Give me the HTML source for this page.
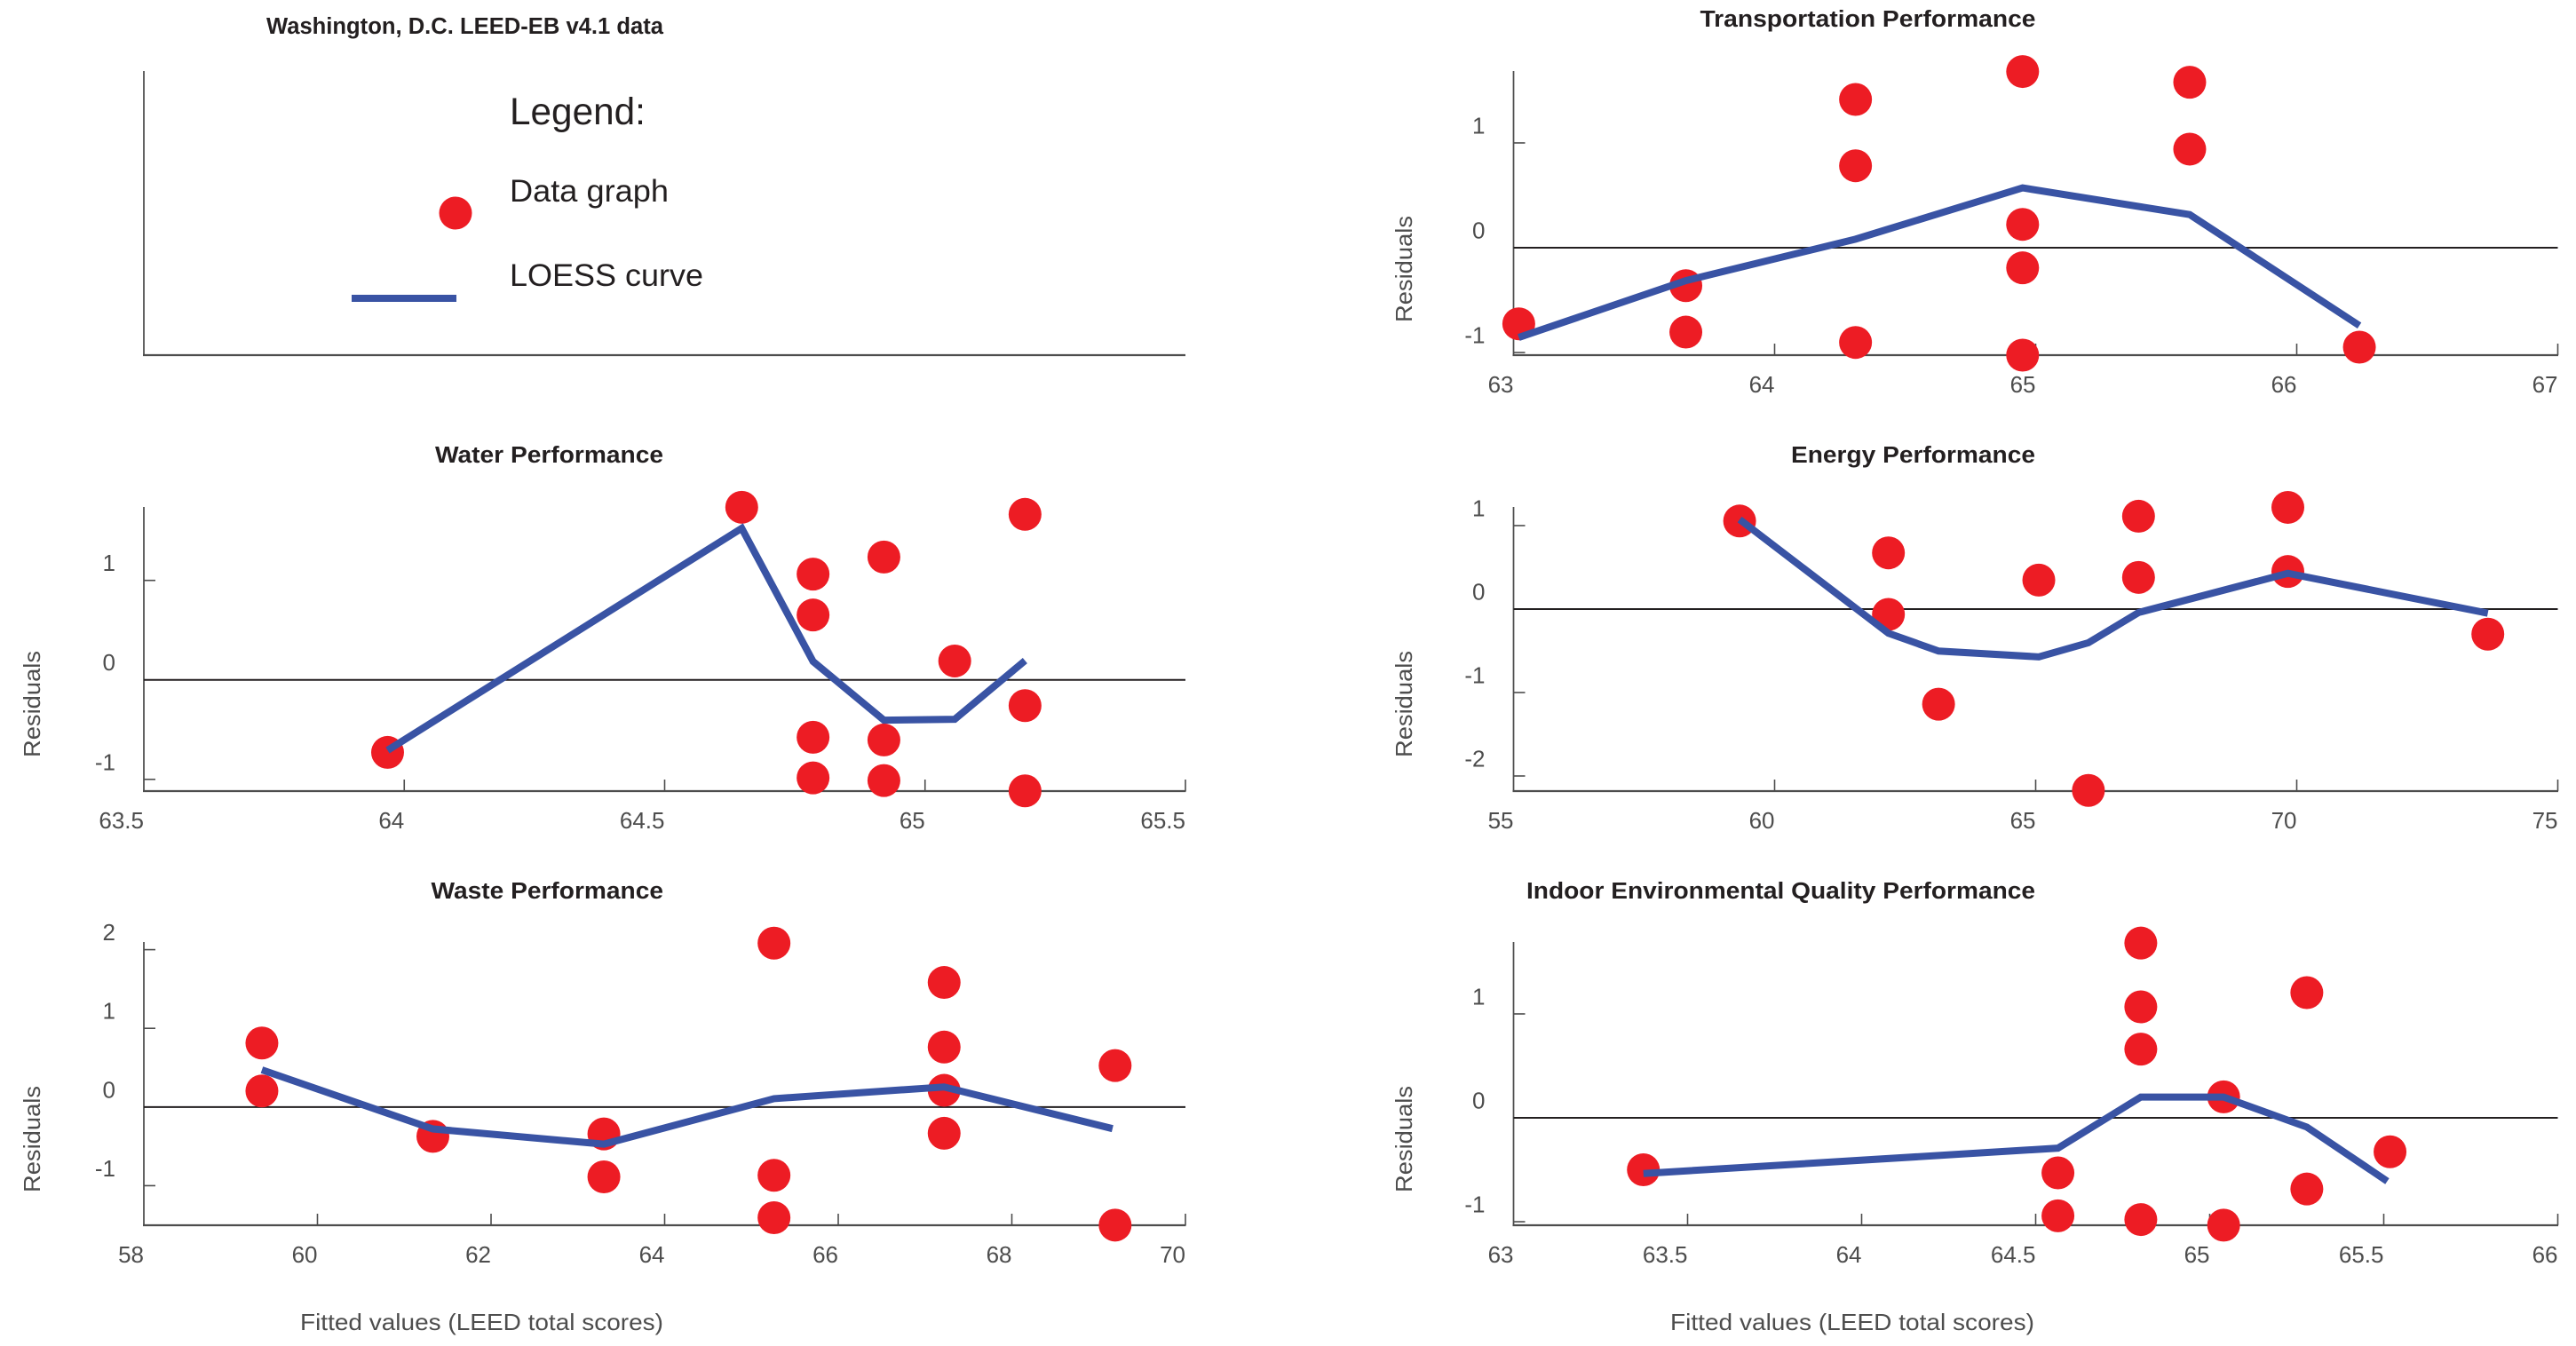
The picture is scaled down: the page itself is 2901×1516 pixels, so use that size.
<!DOCTYPE html>
<html lang="en">
<head>
<meta charset="utf-8">
<title>Washington, D.C. LEED-EB v4.1 data</title>
<style>
  html, body { margin: 0; padding: 0; background: #fff; }
  svg { display: block; }
  text { font-family: "Liberation Sans", Arial, sans-serif; }
  .title { font-size: 25.5px; font-weight: bold; fill: #231f20; }
  .legend { fill: #231f20; }
  .axis-title { font-size: 26px; fill: #4d4d4d; }
  .tick { font-size: 26px; fill: #4d4d4d; }
</style>
</head>
<body>
<svg id="chart" xmlns="http://www.w3.org/2000/svg" width="2901" height="1516" viewBox="0 0 2901 1516">
  <rect x="0" y="0" width="2901" height="1516" fill="#ffffff"/>
  <text class="title" x="300" y="38" textLength="447" lengthAdjust="spacingAndGlyphs">Washington, D.C. LEED-EB v4.1 data</text>
  <text class="title" x="1914.5" y="30" textLength="378" lengthAdjust="spacingAndGlyphs">Transportation Performance</text>
  <text class="title" x="490" y="521" textLength="257" lengthAdjust="spacingAndGlyphs">Water Performance</text>
  <text class="title" x="2017" y="521" textLength="275" lengthAdjust="spacingAndGlyphs">Energy Performance</text>
  <text class="title" x="485.5" y="1012" textLength="261.5" lengthAdjust="spacingAndGlyphs">Waste Performance</text>
  <text class="title" x="1719" y="1012" textLength="573" lengthAdjust="spacingAndGlyphs">Indoor Environmental Quality Performance</text>

  <g>
    <line x1="162" y1="80" x2="162" y2="401" stroke="#4d4d4d" stroke-width="1.75"/>
    <line x1="161" y1="400" x2="1335" y2="400" stroke="#4d4d4d" stroke-width="2.25"/>
    <text class="legend" x="574" y="140" font-size="42.3">Legend:</text>
    <circle cx="513" cy="240" r="18.5" fill="#ed1c24"/>
    <text class="legend" x="574" y="227" font-size="35.5" textLength="179" lengthAdjust="spacingAndGlyphs">Data graph</text>
    <line x1="396" y1="336" x2="514" y2="336" stroke="#3953a4" stroke-width="8"/>
    <text class="legend" x="574" y="322" font-size="35.5" textLength="218" lengthAdjust="spacingAndGlyphs">LOESS curve</text>
  </g>

  <text class="axis-title" x="338" y="1498" textLength="409" lengthAdjust="spacingAndGlyphs">Fitted values (LEED total scores)</text>
  <text class="axis-title" x="1881" y="1498" textLength="410" lengthAdjust="spacingAndGlyphs">Fitted values (LEED total scores)</text>
</svg>

<script>
// Transportation Performance
const transportX = [63.02, 63.66, 63.66, 64.31, 64.31, 64.31, 64.95, 64.95, 64.95, 64.95, 65.59, 65.59, 66.24];
const transportY = [-0.726, -0.362, -0.805, 1.415, 0.782, -0.904, 1.681, 0.223, -0.192, -1.025, 1.579, 0.941, -0.949];
const transportLoessX = [63.02, 63.66, 64.31, 64.95, 65.59, 66.24];
const transportLoessY = [-0.856, -0.314, 0.082, 0.571, 0.316, -0.743];
const transportXTicks = [63, 64, 65, 66, 67];
const transportYTicks = [1, 0, -1];

// Water Performance
const waterX = [63.968, 64.648, 64.785, 64.785, 64.785, 64.785, 64.921, 64.921, 64.921, 65.057, 65.192, 65.192, 65.192];
const waterY = [-0.729, 1.735, 1.063, 0.652, -0.577, -0.985, 1.235, -0.604, -1.012, 0.19, 1.664, -0.259, -1.116];
const waterLoessX = [63.968, 64.648, 64.785, 64.921, 65.057, 65.192];
const waterLoessY = [-0.708, 1.524, 0.185, -0.405, -0.396, 0.193];
const waterXTicks = [63.5, 64, 64.5, 65, 65.5];
const waterYTicks = [1, 0, -1];

// Energy Performance
const energyX = [59.33, 62.18, 62.18, 63.14, 65.06, 66.01, 66.97, 66.97, 69.83, 69.83, 73.66];
const energyY = [1.055, 0.673, -0.064, -1.14, 0.347, -2.173, 1.112, 0.379, 1.218, 0.45, -0.301];
const energyLoessX = [59.33, 62.18, 63.14, 65.06, 66.01, 66.97, 69.83, 73.66];
const energyLoessY = [1.073, -0.29, -0.503, -0.573, -0.404, -0.042, 0.428, -0.05];
const energyXTicks = [55, 60, 65, 70, 75];
const energyYTicks = [1, 0, -1, -2];

// Waste Performance
const wasteX = [59.36, 59.36, 61.33, 63.3, 63.3, 65.26, 65.26, 65.26, 67.22, 67.22, 67.22, 67.22, 69.19, 69.19];
const wasteY = [0.813, 0.204, -0.373, -0.342, -0.888, 2.083, -0.868, -1.407, 1.583, 0.762, 0.212, -0.334, 0.527, -1.501];
const wasteLoessX = [59.36, 61.33, 63.3, 65.26, 67.22, 69.16];
const wasteLoessY = [0.472, -0.279, -0.472, 0.106, 0.255, -0.275];
const wasteXTicks = [58, 60, 62, 64, 66, 68, 70];
const wasteYTicks = [2, 1, 0, -1];

// Indoor Environmental Quality Performance
const ieqX = [63.373, 64.564, 64.564, 64.802, 64.802, 64.802, 64.802, 65.04, 65.04, 65.279, 65.279, 65.518];
const ieqY = [-0.5, -0.53, -0.943, 1.682, 1.068, 0.661, -0.979, 0.202, -1.033, 1.205, -0.685, -0.327];
const ieqLoessX = [63.373, 64.564, 64.802, 65.04, 65.279, 65.51];
const ieqLoessY = [-0.536, -0.292, 0.2, 0.2, -0.089, -0.61];
const ieqXTicks = [63, 63.5, 64, 64.5, 65, 65.5, 66];
const ieqYTicks = [1, 0, -1];

const SVG_NS = 'http://www.w3.org/2000/svg';
const chart = document.getElementById('chart');

function svgEl(tag, attrs, parent) {
  const el = document.createElementNS(SVG_NS, tag);
  for (const k in attrs) el.setAttribute(k, attrs[k]);
  parent.appendChild(el);
  return el;
}

function drawPanel(p) {
  const sx = v => p.left + (v - p.xTicks[0]) / (p.xTicks[p.xTicks.length - 1] - p.xTicks[0]) * (p.right - p.left);
  const sy = v => p.top + (p.yMax - v) / (p.yMax - p.yMin) * (p.bottom - p.top);

  const g = svgEl('g', {}, chart);
  
  

  const yAxis = svgEl('line', { x1: p.left, y1: p.top, x2: p.left, y2: p.bottom + 1, stroke: '#4d4d4d', 'stroke-width': 1.75 }, g);
  
  

  const xAxis = svgEl('line', { x1: p.left - 1, y1: p.bottom, x2: p.right + 0.5, y2: p.bottom, stroke: '#4d4d4d', 'stroke-width': 2.25 }, g);
  
  

  p.xTicks.forEach(function (t, i) {
    const x = sx(t);
    if (i > 0) {
      const mark = svgEl('line', { x1: x, y1: p.bottom - 13, x2: x, y2: p.bottom, stroke: '#4d4d4d', 'stroke-width': 1.6 }, g);
      
      
    }
    const label = svgEl('text', { x: x, y: p.bottom + 42, 'text-anchor': 'end', class: 'tick' }, g);
    
    
    label.textContent = String(t);
  });

  p.yTicks.forEach(function (t) {
    const y = sy(t);
    if (t !== 0) {
      const mark = svgEl('line', { x1: p.left, y1: y, x2: p.left + 13, y2: y, stroke: '#4d4d4d', 'stroke-width': 1.6 }, g);
      
      
    }
    const label = svgEl('text', { x: p.left - 32, y: y - 10.5, 'text-anchor': 'end', class: 'tick' }, g);
    
    
    label.textContent = String(t);
  });

  const cx = p.yTitleX;
  const yTitle = svgEl('text', {
    x: cx, y: p.yTitleY, 'text-anchor': 'middle', class: 'axis-title',
    transform: 'rotate(-90 ' + cx + ' ' + p.yTitleY + ')',
    textLength: 120, lengthAdjust: 'spacingAndGlyphs'
  }, g);
  
  
  yTitle.textContent = 'Residuals';

  const zero = svgEl('line', { x1: p.left, y1: sy(0), x2: p.right, y2: sy(0), stroke: '#231f20', 'stroke-width': 2 }, g);
  
  

  p.xs.forEach(function (v, i) {
    const dot = svgEl('circle', { cx: sx(v), cy: sy(p.ys[i]), r: 18.5, fill: '#ed1c24' }, g);
    
    
  });

  const pts = p.loessX.map((v, i) => sx(v) + ',' + sy(p.loessY[i])).join(' ');
  const curve = svgEl('polyline', { points: pts, fill: 'none', stroke: '#3953a4', 'stroke-width': 8, 'stroke-linejoin': 'miter' }, g);
  
  
}

drawPanel({ name: 'transportation', left: 1704.5, right: 2880.5, top: 80, bottom: 400, yMax: 1.686, yMin: -1.025,
  xTicks: transportXTicks, yTicks: transportYTicks, xs: transportX, ys: transportY, loessX: transportLoessX, loessY: transportLoessY,
  yTitleX: 1590, yTitleY: 303 });
drawPanel({ name: 'water', left: 162, right: 1335, top: 571, bottom: 891, yMax: 1.738, yMin: -1.118,
  xTicks: waterXTicks, yTicks: waterYTicks, xs: waterX, ys: waterY, loessX: waterLoessX, loessY: waterLoessY,
  yTitleX: 45, yTitleY: 793 });
drawPanel({ name: 'energy', left: 1704.5, right: 2880.5, top: 571, bottom: 891, yMax: 1.223, yMin: -2.181,
  xTicks: energyXTicks, yTicks: energyYTicks, xs: energyX, ys: energyY, loessX: energyLoessX, loessY: energyLoessY,
  yTitleX: 1590, yTitleY: 793 });
drawPanel({ name: 'waste', left: 162, right: 1335, top: 1061, bottom: 1380, yMax: 2.097, yMin: -1.503,
  xTicks: wasteXTicks, yTicks: wasteYTicks, xs: wasteX, ys: wasteY, loessX: wasteLoessX, loessY: wasteLoessY,
  yTitleX: 45, yTitleY: 1283 });
drawPanel({ name: 'indoor-environmental-quality', left: 1704.5, right: 2880.5, top: 1061, bottom: 1380, yMax: 1.692, yMin: -1.034,
  xTicks: ieqXTicks, yTicks: ieqYTicks, xs: ieqX, ys: ieqY, loessX: ieqLoessX, loessY: ieqLoessY,
  yTitleX: 1590, yTitleY: 1283 });
</script>
</body>
</html>
